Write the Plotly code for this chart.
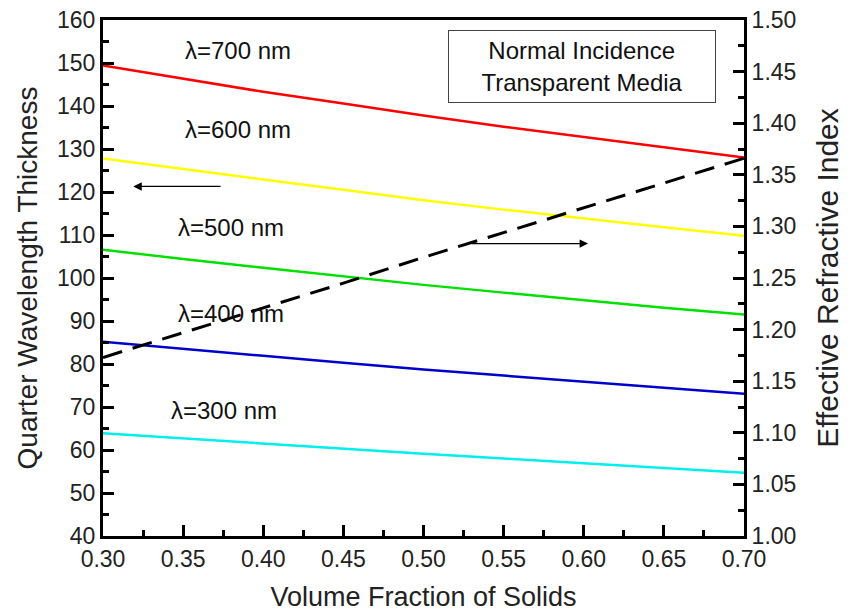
import plotly.graph_objects as go

x_vals = [0.30, 0.35, 0.40, 0.45, 0.50, 0.55, 0.60, 0.65, 0.70]
t700 = [149.4, 146.3, 143.3, 140.6, 137.8, 135.2, 132.8, 130.4, 128.0]
t600 = [127.8, 125.3, 122.9, 120.5, 118.1, 115.9, 113.8, 111.8, 109.8]
t500 = [106.6, 104.4, 102.4, 100.4, 98.4, 96.6, 94.8, 93.1, 91.5]
t400 = [85.2, 83.5, 81.9, 80.3, 78.7, 77.3, 75.9, 74.5, 73.1]
t300 = [63.9, 62.7, 61.4, 60.2, 59.1, 58.0, 56.9, 55.9, 54.7]
n_eff = [1.173, 1.197, 1.221, 1.245, 1.270, 1.294, 1.318, 1.342, 1.366]

series = [
    ("λ=700 nm", t700, "#ff0000", 0.384, 153.0),
    ("λ=600 nm", t600, "#ffff00", 0.384, 134.6),
    ("λ=500 nm", t500, "#00e000", 0.380, 111.7),
    ("λ=400 nm", t400, "#0000cc", 0.380, 91.7),
    ("λ=300 nm", t300, "#00eeee", 0.3755, 69.2),
]

FONT = "Liberation Sans, Arial, sans-serif"
fig = go.Figure()
for name, ys, col, lx, ly in series:
    fig.add_trace(go.Scatter(x=x_vals, y=ys, mode="lines", name=name,
                             line=dict(color=col, width=2.5), showlegend=False))
    fig.add_annotation(x=lx, y=ly, text=name, showarrow=False,
                       font=dict(size=24, color="#111", family=FONT))

fig.add_trace(go.Scatter(x=x_vals, y=n_eff, mode="lines", yaxis="y2",
                         line=dict(color="black", width=3, dash="20px,11px"),
                         showlegend=False))

# arrows
fig.add_annotation(x=0.3189, y=121.3, ax=0.3743, ay=121.3, xref="x", yref="y",
                   axref="x", ayref="y", text="", showarrow=True,
                   arrowhead=2, arrowsize=1.3, arrowwidth=1.3, arrowcolor="black")
fig.add_annotation(x=0.6027, y=108.0, ax=0.529, ay=108.0, xref="x", yref="y",
                   axref="x", ayref="y", text="", showarrow=True,
                   arrowhead=2, arrowsize=1.3, arrowwidth=1.3, arrowcolor="black")

# text box
fig.add_annotation(x=0.599, y=149.1, xref="x", yref="y",
                   text="Normal Incidence<br>Transparent Media", showarrow=False,
                   font=dict(size=24, color="#111", family=FONT),
                   bordercolor="#444", borderwidth=1, borderpad=4,
                   bgcolor="white", align="center", width=258, height=63)

axis_common = dict(showline=True, linecolor="black", linewidth=3,
                   ticks="inside", ticklen=11, tickwidth=2.5, tickcolor="black",
                   showgrid=False, zeroline=False, automargin=False,
                   tickfont=dict(size=23, color="#222", family=FONT))

fig.update_layout(
    width=850, height=612,
    margin=dict(l=103, r=106, t=20, b=76),
    paper_bgcolor="white", plot_bgcolor="white",
    xaxis=dict(range=[0.30, 0.70], dtick=0.05, tick0=0.30, tickformat=".2f",
               mirror=True,
               minor=dict(ticks="inside", ticklen=6, tickwidth=2.5, dtick=0.025,
                          tickcolor="black"),
               title=dict(text="Volume Fraction of Solids", standoff=26,
                          font=dict(size=27, color="#222", family=FONT)),
               **axis_common),
    yaxis=dict(range=[40, 160], dtick=10, tick0=40,
               minor=dict(ticks="inside", ticklen=6, tickwidth=2.5, dtick=5,
                          tickcolor="black"),
               title=dict(text="Quarter Wavelength Thickness", standoff=12,
                          font=dict(size=28, color="#222", family=FONT)),
               **axis_common),
    yaxis2=dict(range=[1.0, 1.5], dtick=0.05, tick0=1.0, tickformat=".2f",
                overlaying="y", side="right",
                minor=dict(ticks="inside", ticklen=6, tickwidth=2.5, dtick=0.025,
                           tickcolor="black"),
                title=dict(text="Effective Refractive Index", standoff=22,
                           font=dict(size=30, color="#222", family=FONT)),
                **axis_common),
)

fig.write_html("out.html")
